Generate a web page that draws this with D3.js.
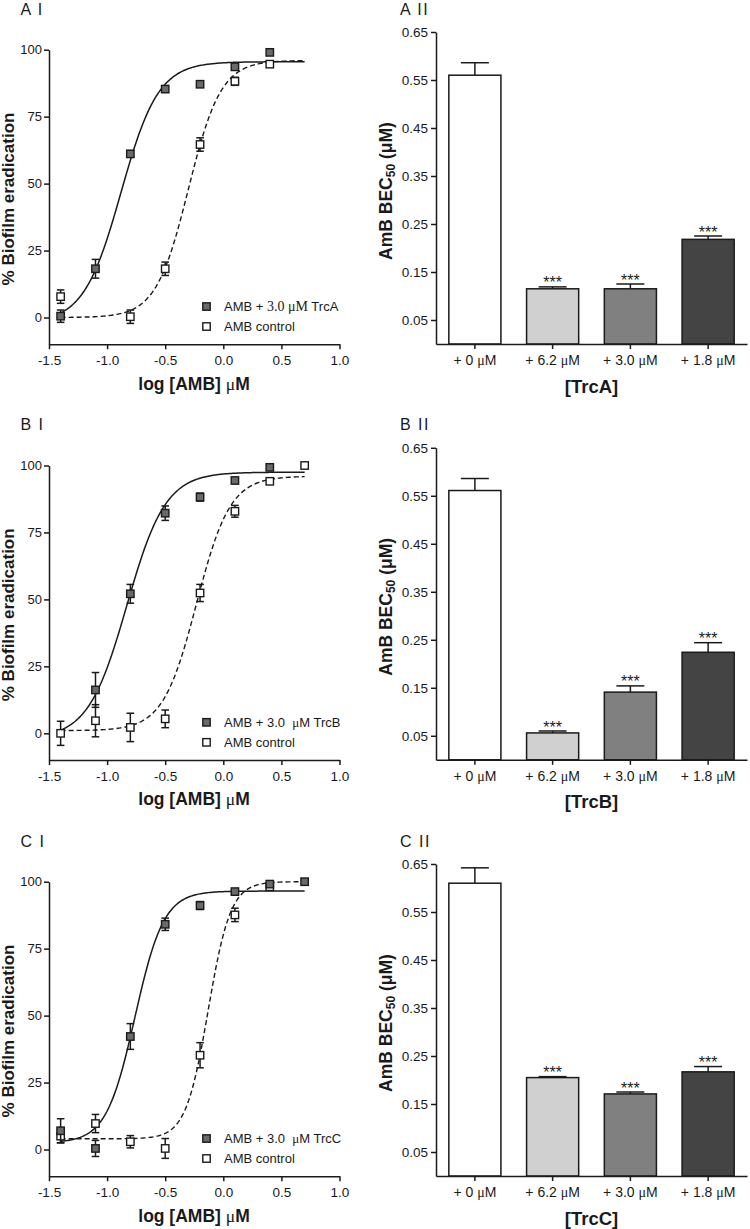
<!DOCTYPE html>
<html><head><meta charset="utf-8">
<script src="https://cdn.jsdelivr.net/npm/d3@7"></script>
<style>
body{margin:0;background:#fff;}
svg{display:block;font-family:"Liberation Sans",Arial,sans-serif;}
text{white-space:pre;}
</style></head><body>
<svg id="c" width="750" height="1229"></svg>
<script>
// ---------- DATA ----------
const panelLabelsLeft = ["A I", "B I", "C I"];
const panelLabelsRight = ["A II", "B II", "C II"];
const logDose = [-1.4, -1.1, -0.8, -0.5, -0.2, 0.1, 0.4, 0.7];

// % biofilm eradication, AMB + 3.0 uM Trc (filled squares)
const trcA_mean = [0.5, 18.2, 61.1, 85.3, 87.1, 93.6, 99.0, null];
const trcA_err  = [2.3, 3.5, 1.2, 1.2, 0.6, 0.8, 0.6, null];
const trcB_mean = [null, 16.2, 52.1, 82.2, 88.2, 94.4, 99.3, null];
const trcB_err  = [null, 6.5, 3.5, 2.7, 1.5, 0.8, 0.6, null];
const trcC_mean = [7.0, 0.4, 42.2, 84.1, 91.1, 96.3, 99.1, 100.0];
const trcC_err  = [4.5, 3.0, 4.8, 2.3, 1.5, 0.8, 0.6, 0.5];

// % biofilm eradication, AMB control (open squares)
const ctrlA_mean = [7.8, null, 0.3, 18.2, 64.6, 88.2, 94.6, null];
const ctrlA_err  = [2.5, null, 2.5, 2.5, 2.5, 1.5, 0.6, null];
const ctrlB_mean = [0.0, 4.7, 2.2, 5.4, 52.4, 82.9, 94.1, 100.0];
const ctrlB_err  = [4.5, 6.0, 5.3, 3.3, 3.2, 2.2, 0.6, 0.5];
const ctrlC_mean = [5.0, 9.7, 2.9, 0.4, 35.2, 87.6, 98.1, null];
const ctrlC_err  = [2.5, 3.4, 2.3, 3.7, 4.7, 2.5, 0.6, null];

// sigmoidal dose-response fits: [bottom, top, logEC50, hill slope]
const fitTrcA = [-2, 95.5, -0.88, 2.7];
const fitTrcB = [-2, 97.5, -0.83, 2.6];
const fitTrcC = [2.5, 96.5, -0.76, 3.5];
const fitCtrlA = [0, 96, -0.30, 3.1];
const fitCtrlB = [1, 96, -0.23, 3.0];
const fitCtrlC = [4, 100, -0.13, 4.5];
const fitRange = [-1.4, 0.7];

const legendTrc = ["AMB + 3.0 μM TrcA", "AMB + 3.0  μM TrcB", "AMB + 3.0  μM TrcC"];
const legendCtrl = "AMB control";

const xTicks = [-1.5, -1.0, -0.5, 0.0, 0.5, 1.0];
const xTickLabels = ["-1.5", "-1.0", "-0.5", "0.0", "0.5", "1.0"];
const yTicks = [0, 25, 50, 75, 100];
const yTickLabels = ["0", "25", "50", "75", "100"];
const lineXTitle = "log [AMB] μM";
const lineYTitle = "% Biofilm eradication";

// AmB BEC50 bars
const barCats = ["+ 0 μM", "+ 6.2 μM", "+ 3.0 μM", "+ 1.8 μM"];
const barA_mean = [0.560, 0.115, 0.115, 0.218];
const barA_err  = [0.026, 0.004, 0.010, 0.007];
const barB_mean = [0.561, 0.056, 0.141, 0.224];
const barB_err  = [0.025, 0.004, 0.013, 0.020];
const barC_mean = [0.610, 0.205, 0.171, 0.217];
const barC_err  = [0.032, 0.002, 0.004, 0.011];
const barSig = ["", "***", "***", "***"];
const barColors = ["#ffffff", "#d0d0d0", "#808080", "#444444"];
const barXTitles = ["[TrcA]", "[TrcB]", "[TrcC]"];
const barYTicks = [0.05, 0.15, 0.25, 0.35, 0.45, 0.55, 0.65];
const barYTickLabels = ["0.05", "0.15", "0.25", "0.35", "0.45", "0.55", "0.65"];

// ---------- DRAW ----------
const SERIF = "'Liberation Serif','DejaVu Serif',serif";
const INK = "#1a1a1a";
const svg = d3.select("#c");
const dy = [0, 415.8, 832];

const lineSets = [
  {trc: trcA_mean, trcE: trcA_err, ctrl: ctrlA_mean, ctrlE: ctrlA_err, fT: fitTrcA, fC: fitCtrlA},
  {trc: trcB_mean, trcE: trcB_err, ctrl: ctrlB_mean, ctrlE: ctrlB_err, fT: fitTrcB, fC: fitCtrlB},
  {trc: trcC_mean, trcE: trcC_err, ctrl: ctrlC_mean, ctrlE: ctrlC_err, fT: fitTrcC, fC: fitCtrlC}
];
const barSets = [
  {m: barA_mean, e: barA_err}, {m: barB_mean, e: barB_err}, {m: barC_mean, e: barC_err}
];

function styleAxis(g, fs) {
  g.selectAll("path, line").attr("stroke", INK).attr("stroke-width", 1.5);
  g.selectAll("text").attr("font-size", fs || 13).attr("fill", INK)
    .attr("font-family", "'Liberation Sans',Arial,sans-serif");
}
function muText(sel, str, muFont) {
  const parts = str.split("μ");
  parts.forEach((p, k) => {
    if (k > 0) sel.append("tspan").attr("font-family", muFont || SERIF).attr("font-weight", "normal").text("μ");
    if (p.length) sel.append("tspan").text(p);
  });
}
const logistic = (f, x) => f[0] + (f[1] - f[0]) / (1 + Math.pow(10, (f[2] - x) * f[3]));

const xL = d3.scaleLinear().domain([-1.5, 1.0]).range([49, 339.5]);
const sampleX = d3.range(0, 201).map(k => fitRange[0] + (fitRange[1] - fitRange[0]) * k / 200);
const MS = 7.4;

lineSets.forEach((s, i) => {
  const off = dy[i];
  const y = d3.scaleLinear().domain([-10, 100]).range([344.3 + off, 49.7 + off]);
  const g = svg.append("g");

  // panel label
  g.append("text").attr("x", 20.5).attr("y", 14.5 + off).attr("font-size", 16)
    .attr("letter-spacing", 1.5).attr("fill", INK).text(panelLabelsLeft[i]);

  // axes
  const gx = g.append("g").attr("transform", `translate(0,${y(-10)})`)
    .call(d3.axisBottom(xL).tickValues(xTicks).tickFormat((d, j) => xTickLabels[j])
      .tickSize(5).tickSizeOuter(0).tickPadding(6));
  styleAxis(gx, 13.5);
  const gy = g.append("g").attr("transform", `translate(${xL(-1.5)},0)`)
    .call(d3.axisLeft(y).tickValues(yTicks).tickFormat((d, j) => yTickLabels[j])
      .tickSize(5).tickSizeOuter(0).tickPadding(2));
  styleAxis(gy, 13);

  // titles
  const xt = g.append("text").attr("x", 194).attr("y", 389.5 + off).attr("text-anchor", "middle")
    .attr("font-size", 17.5).attr("font-weight", "bold").attr("fill", INK);
  muText(xt, lineXTitle);
  g.append("text").attr("transform", `translate(14,${199 + off}) rotate(-90)`)
    .attr("text-anchor", "middle").attr("font-size", 17).attr("font-weight", "bold")
    .attr("fill", INK).text(lineYTitle);

  // curves
  const line = d3.line().x(d => xL(d)).curve(d3.curveLinear);
  g.append("path").attr("d", line.y(d => y(logistic(s.fT, d)))(sampleX))
    .attr("fill", "none").attr("stroke", INK).attr("stroke-width", 1.5);
  g.append("path").attr("d", line.y(d => y(logistic(s.fC, d)))(sampleX))
    .attr("fill", "none").attr("stroke", INK).attr("stroke-width", 1.4)
    .attr("stroke-dasharray", "5,3");

  // points with error bars: open first, filled on top
  const series = [
    {m: s.ctrl, e: s.ctrlE, fill: "#ffffff"},
    {m: s.trc, e: s.trcE, fill: "#6a6a6a"}
  ];
  series.forEach(ser => {
    const pts = logDose.map((x, k) => ({x, v: ser.m[k], e: ser.e[k]})).filter(d => d.v != null);
    const eg = g.append("g").attr("stroke", INK).attr("stroke-width", 1.5);
    pts.forEach(d => {
      const x = xL(d.x), y1 = y(d.v + d.e), y2 = y(d.v - d.e);
      eg.append("line").attr("x1", x).attr("x2", x).attr("y1", y1).attr("y2", y2);
      eg.append("line").attr("x1", x - 3.8).attr("x2", x + 3.8).attr("y1", y1).attr("y2", y1);
      eg.append("line").attr("x1", x - 3.8).attr("x2", x + 3.8).attr("y1", y2).attr("y2", y2);
    });
    g.append("g").selectAll("rect").data(pts).join("rect")
      .attr("x", d => xL(d.x) - MS / 2).attr("y", d => y(d.v) - MS / 2)
      .attr("width", MS).attr("height", MS)
      .attr("fill", ser.fill).attr("stroke", INK).attr("stroke-width", 1.4);
  });

  // legend
  const ly1 = y(0) - 11, ly2 = y(0) + 9;
  g.append("rect").attr("x", 206.5 - MS / 2).attr("y", ly1 - MS / 2).attr("width", MS).attr("height", MS)
    .attr("fill", "#6a6a6a").attr("stroke", INK).attr("stroke-width", 1.4);
  g.append("rect").attr("x", 206.5 - MS / 2).attr("y", ly2 - MS / 2).attr("width", MS).attr("height", MS)
    .attr("fill", "#fff").attr("stroke", INK).attr("stroke-width", 1.4);
  const lt = g.append("text").attr("x", 224).attr("y", ly1 + 4.7).attr("font-size", 13).attr("fill", INK);
  if (i === 0) {
    const str = legendTrc[i];
    const a = str.indexOf("3.0"), b = str.indexOf("M", a) + 1;
    lt.append("tspan").text(str.slice(0, a));
    lt.append("tspan").attr("font-family", SERIF).attr("font-size", 14).text(str.slice(a, b));
    lt.append("tspan").text(str.slice(b));
  } else {
    muText(lt, legendTrc[i]);
  }
  g.append("text").attr("x", 224).attr("y", ly2 + 4.7).attr("font-size", 13).attr("fill", INK).text(legendCtrl);
});

// bar charts
barSets.forEach((s, i) => {
  const off = dy[i];
  const g = svg.append("g");
  const x = d3.scaleBand().domain(barCats).range([436, 747]).paddingInner(0.33).paddingOuter(0.165);
  const y = d3.scaleLinear().domain([0, 0.65]).range([344 + off, 32 + off]);

  g.append("text").attr("x", 400).attr("y", 14.5 + off).attr("font-size", 16)
    .attr("letter-spacing", 1.5).attr("fill", INK).text(panelLabelsRight[i]);

  const data = barCats.map((c, k) => ({c, v: s.m[k], e: s.e[k], col: barColors[k], sig: barSig[k]}));

  // bars
  g.append("g").selectAll("rect").data(data).join("rect")
    .attr("x", d => x(d.c)).attr("width", x.bandwidth())
    .attr("y", d => y(d.v)).attr("height", d => y(0) - y(d.v))
    .attr("fill", d => d.col).attr("stroke", INK).attr("stroke-width", 1.5);

  // error bars (upper)
  const eg = g.append("g").attr("stroke", INK).attr("stroke-width", 1.5);
  data.forEach(d => {
    const cx = x(d.c) + x.bandwidth() / 2;
    eg.append("line").attr("x1", cx).attr("x2", cx).attr("y1", y(d.v)).attr("y2", y(d.v + d.e));
    eg.append("line").attr("x1", cx - 14).attr("x2", cx + 14).attr("y1", y(d.v + d.e)).attr("y2", y(d.v + d.e));
  });
  // significance
  g.append("g").selectAll("text").data(data.filter(d => d.sig)).join("text")
    .attr("x", d => x(d.c) + x.bandwidth() / 2).attr("y", d => y(d.v + d.e) + 1.5)
    .attr("text-anchor", "middle").attr("font-size", 16).attr("fill", INK).text(d => d.sig);

  // axes
  const gx = g.append("g").attr("transform", `translate(0,${y(0)})`)
    .call(d3.axisBottom(x).tickSize(5).tickSizeOuter(0).tickPadding(6));
  styleAxis(gx, 14);
  gx.selectAll(".tick text").each(function(d) {
    const t = d3.select(this); t.text(null); muText(t, d);
  });
  const gy = g.append("g").attr("transform", `translate(436,0)`)
    .call(d3.axisLeft(y).tickValues(barYTicks).tickFormat((d, j) => barYTickLabels[j])
      .tickSize(5).tickSizeOuter(0).tickPadding(3));
  styleAxis(gy, 13.5);

  g.append("text").attr("x", 591.5).attr("y", 392.5 + off).attr("text-anchor", "middle")
    .attr("font-size", 18.5).attr("font-weight", "bold").attr("fill", INK).text(barXTitles[i]);

  const yt = g.append("text").attr("transform", `translate(391.5,${191 + off}) rotate(-90)`)
    .attr("text-anchor", "middle").attr("font-size", 17.5).attr("font-weight", "bold").attr("fill", INK);
  yt.append("tspan").text("AmB BEC");
  yt.append("tspan").attr("font-size", 12).attr("dy", 3.5).text("50");
  yt.append("tspan").attr("dy", -3.5).text(" (");
  yt.append("tspan").text("μM)");
});
</script></body></html>
